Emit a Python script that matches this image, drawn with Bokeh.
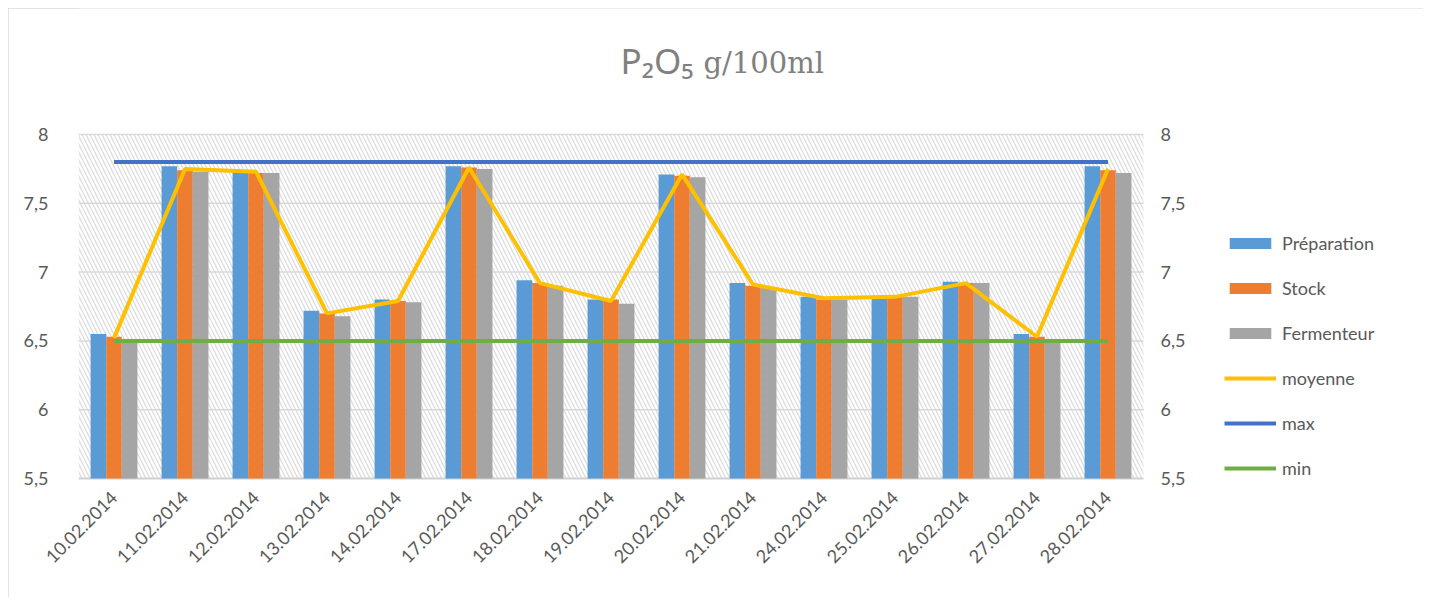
import math
from bokeh.plotting import figure
from bokeh.models import (ColumnDataSource, FixedTicker, Legend, LegendItem, BoxAnnotation, Label, Range1d)
from bokeh.transform import dodge
from bokeh.embed import file_html
from bokeh.resources import INLINE

dates = ["10.02.2014", "11.02.2014", "12.02.2014", "13.02.2014", "14.02.2014", "17.02.2014",
         "18.02.2014", "19.02.2014", "20.02.2014", "21.02.2014", "24.02.2014", "25.02.2014",
         "26.02.2014", "27.02.2014", "28.02.2014"]
preparation = [6.55, 7.77, 7.73, 6.72, 6.80, 7.77, 6.94, 6.80, 7.71, 6.92, 6.82, 6.82, 6.93, 6.55, 7.77]
stock = [6.53, 7.74, 7.72, 6.70, 6.79, 7.76, 6.92, 6.80, 7.70, 6.90, 6.80, 6.82, 6.92, 6.53, 7.74]
fermenteur = [6.50, 7.73, 7.72, 6.68, 6.78, 7.75, 6.90, 6.77, 7.69, 6.89, 6.80, 6.82, 6.92, 6.50, 7.72]
moyenne = [6.52, 7.75, 7.73, 6.70, 6.79, 7.76, 6.92, 6.79, 7.71, 6.91, 6.81, 6.82, 6.92, 6.53, 7.75]
max_val = [7.8] * len(dates)
min_val = [6.5] * len(dates)
y_ticks = [5.5, 6, 6.5, 7, 7.5, 8]
y_tick_labels = ["5,5", "6", "6,5", "7", "7,5", "8"]
series_names = ["Préparation", "Stock", "Fermenteur", "moyenne", "max", "min"]

C_PREP, C_STOCK, C_FERM = "#5B9BD5", "#ED7D31", "#A5A5A5"
C_MOY, C_MAX, C_MIN = "#FFC000", "#4472C4", "#70AD47"
FONT = "Lato"
LABEL_COLOR = "#595959"

idx = list(range(len(dates)))
src = ColumnDataSource(dict(x=idx, prep=preparation, stock=stock, ferm=fermenteur,
                            moy=moyenne, mx=max_val, mn=min_val))

# layout geometry (pixels)
W, H = 1415, 589
EXTRA = 12                  # frame extends a little below the data area
BL, BB = 70, 119 - EXTRA    # left / bottom borders
PLOT_W, PLOT_H = 1065, 344  # data area size inside the frame
frame_w, frame_h = W - BL, H - BB
x0 = -0.5
x1 = x0 + len(dates)
x_end = x0 + (x1 - x0) * frame_w / PLOT_W
y_lo, y_hi = y_ticks[0], y_ticks[-1]
ppu = PLOT_H / (y_hi - y_lo)
y_start = y_lo - EXTRA / ppu
y_end = y_start + frame_h / ppu

p = figure(x_range=Range1d(x0, x_end), y_range=Range1d(y_start, y_end),
           width=W, height=H, output_backend="svg", toolbar_location=None,
           min_border_left=BL, min_border_right=0, min_border_top=0, min_border_bottom=BB)
p.margin = (8, 0, 0, 8)
p.outline_line_color = None
p.background_fill_color = "white"
p.border_fill_color = "white"
p.styles = {"outline": "1px solid #d9d9d9", "outline-offset": "-1px"}

# hatched plot area
p.add_layout(BoxAnnotation(left=x0, right=x1, bottom=y_lo, top=y_hi,
                           fill_color="white", fill_alpha=1, line_color=None,
                           hatch_pattern="\\", hatch_color="#dcdcdc", hatch_scale=8, hatch_weight=1.3,
                           level="image"))

# horizontal grid lines (at the y ticks, over the data area only)
p.xgrid.grid_line_color = None
p.ygrid.grid_line_color = None
p.segment(x0=[x0] * (len(y_ticks) - 1), x1=[x1] * (len(y_ticks) - 1), y0=y_ticks[1:], y1=y_ticks[1:],
          line_color="#d9d9d9", line_width=1.5, level="underlay")
# category axis line
p.segment(x0=[x0], x1=[x1], y0=[y_lo], y1=[y_lo], line_color="#d0d0d0", line_width=2)

w = 0.22
r_prep = p.vbar(x=dodge("x", -w), top="prep", bottom=y_lo, width=w, source=src,
                fill_color=C_PREP, line_color=None)
r_stock = p.vbar(x=dodge("x", 0), top="stock", bottom=y_lo, width=w, source=src,
                 fill_color=C_STOCK, line_color=None)
r_ferm = p.vbar(x=dodge("x", w), top="ferm", bottom=y_lo, width=w, source=src,
                fill_color=C_FERM, line_color=None)
r_moy = p.line(x="x", y="moy", source=src, line_color=C_MOY, line_width=4)
r_max = p.line(x="x", y="mx", source=src, line_color=C_MAX, line_width=4)
r_min = p.line(x="x", y="mn", source=src, line_color=C_MIN, line_width=4)

# left axis
ya = p.yaxis[0]
ya.ticker = FixedTicker(ticks=y_ticks)
ya.major_label_overrides = {t: l for t, l in zip(y_ticks, y_tick_labels)}
ya.axis_line_color = None
ya.major_tick_line_color = None
ya.minor_tick_line_color = None
ya.major_label_text_font = FONT
ya.major_label_text_font_size = "18px"
ya.major_label_text_color = LABEL_COLOR
ya.major_label_standoff = 24

# right-hand tick labels
p.text(x=[x1] * len(y_ticks), y=y_ticks, text=y_tick_labels, x_offset=17,
       text_font={"value": FONT}, text_font_size="18px", text_color=LABEL_COLOR,
       text_align="left", text_baseline="middle")

# bottom axis (labels only; its line is drawn at y = 5.5 above)
xa = p.xaxis[0]
xa.ticker = FixedTicker(ticks=idx)
xa.major_label_overrides = {i: d for i, d in zip(idx, dates)}
xa.axis_line_color = None
xa.major_tick_line_color = None
xa.minor_tick_line_color = None
xa.major_label_orientation = math.pi / 4
xa.major_label_text_font = FONT
xa.major_label_text_font_size = "18px"
xa.major_label_text_color = LABEL_COLOR
xa.major_label_standoff = 10 - EXTRA

# title
p.add_layout(Label(x=615, y=430, x_units="screen", y_units="screen", text="P₂O₅",
                   text_font="Noto Sans", text_font_size="35px", text_color="#808080",
                   text_align="right", text_baseline="middle"))
p.add_layout(Label(x=625, y=428, x_units="screen", y_units="screen", text="g/100ml",
                   text_font="DejaVu Serif", text_font_size="29px", text_color="#808080",
                   text_align="left", text_baseline="middle"))

legend = Legend(items=[LegendItem(label=n, renderers=[r]) for n, r in
                       zip(series_names, [r_prep, r_stock, r_ferm, r_moy, r_max, r_min])],
                location=(1146, EXTRA - 1), orientation="vertical")
legend.border_line_color = None
legend.background_fill_alpha = 0
legend.padding = 0
legend.margin = 0
legend.spacing = 23
legend.glyph_width = 52
legend.glyph_height = 14
legend.label_height = 20
legend.label_standoff = 6
legend.label_text_font = FONT
legend.label_text_font_size = "18px"
legend.label_text_color = LABEL_COLOR
p.add_layout(legend, "center")

open("out.html", "w").write(file_html(p, INLINE))
